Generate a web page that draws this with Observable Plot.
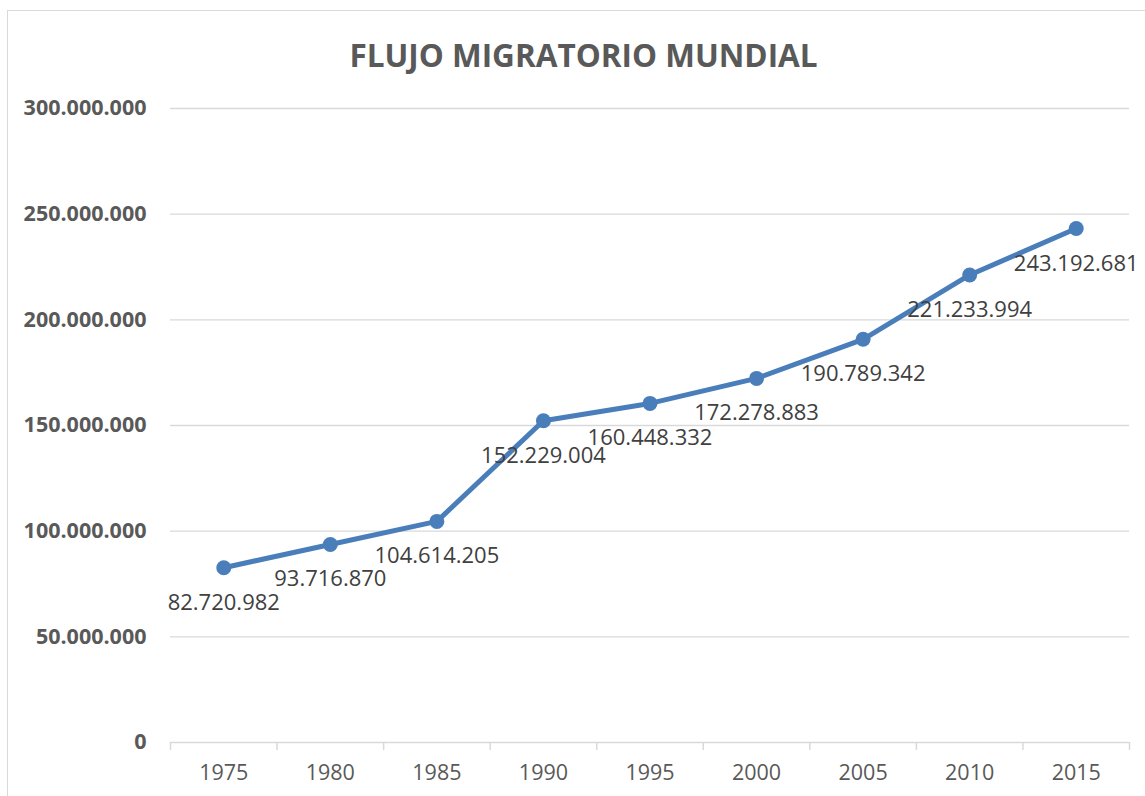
<!DOCTYPE html>
<html>
<head>
<meta charset="utf-8">
<script src="https://cdn.jsdelivr.net/npm/d3@7"></script>
<script src="https://cdn.jsdelivr.net/npm/@observablehq/plot@0.6"></script>
<style>
  html, body { margin: 0; padding: 0; background: #fff; overflow: hidden; width: 1145px; height: 796px; }
  #frame { position: absolute; left: 7px; top: 10px; width: 1300px; height: 900px;
           border-top: 1.5px solid #d9d9d9; border-left: 1.5px solid #d9d9d9; pointer-events: none; }
  #title { height: 90px; box-sizing: border-box; padding-top: 39px; text-align: center;
           font-family: "Open Sans", sans-serif; font-weight: bold; font-size: 31.5px; color: #595959;
           line-height: 1; padding-left: 22px; }
  #chart svg { display: block; font-family: "Open Sans", sans-serif; }
</style>
</head>
<body>
<div id="frame"></div>
<div id="title">FLUJO MIGRATORIO MUNDIAL</div>
<div id="chart"></div>
<script>
const years = [1975, 1980, 1985, 1990, 1995, 2000, 2005, 2010, 2015];
const migrants = [82720982, 93716870, 104614205, 152229004, 160448332, 172278883, 190789342, 221233994, 243192681];
const yTicks = [0, 50000000, 100000000, 150000000, 200000000, 250000000, 300000000];
const categoryEdges = [1972.5, 1977.5, 1982.5, 1987.5, 1992.5, 1997.5, 2002.5, 2007.5, 2012.5, 2017.5];

const data = years.map((y, i) => ({year: y, value: migrants[i]}));
const loc = d3.formatLocale({decimal: ",", thousands: ".", grouping: [3], currency: ["", ""]});
const fmt = loc.format(",d");
const blue = "#4A7EBB";

const chart = Plot.plot({
  width: 1145,
  height: 706,
  marginLeft: 170,
  marginRight: 16,
  marginTop: 18,
  marginBottom: 54,
  x: {type: "linear", domain: [1972.5, 2017.5]},
  y: {domain: [0, 300000000]},
  marks: [
    Plot.ruleY(yTicks.filter(d => d > 0), {stroke: "#d9d9d9", strokeWidth: 1.3}),
    Plot.ruleY([0], {stroke: "#d9d9d9", strokeWidth: 1.5}),
    Plot.axisY({ticks: yTicks, tickSize: 0, tickPadding: 24, tickFormat: fmt,
      fontSize: 21.5, fontWeight: "bold", fill: "#595959", label: null}),
    Plot.axisX({ticks: categoryEdges, tickSize: 8, tickFormat: () => "", stroke: "#d9d9d9", strokeWidth: 1.5, label: null}),
    Plot.axisX({ticks: years, tickSize: 0, tickPadding: 22, tickFormat: d => String(d),
      fontSize: 21.5, fill: "#595959", label: null}),
    Plot.line(data, {x: "year", y: "value", stroke: blue, strokeWidth: 5}),
    Plot.dot(data, {x: "year", y: "value", r: 7.5, fill: blue, stroke: "none"}),
    Plot.text(data, {x: "year", y: "value", text: d => fmt(d.value), dy: 35,
      fontSize: 22, fill: "#404040", lineAnchor: "middle", textAnchor: "middle"})
  ]
});
document.getElementById("chart").appendChild(chart);
</script>
</body>
</html>
